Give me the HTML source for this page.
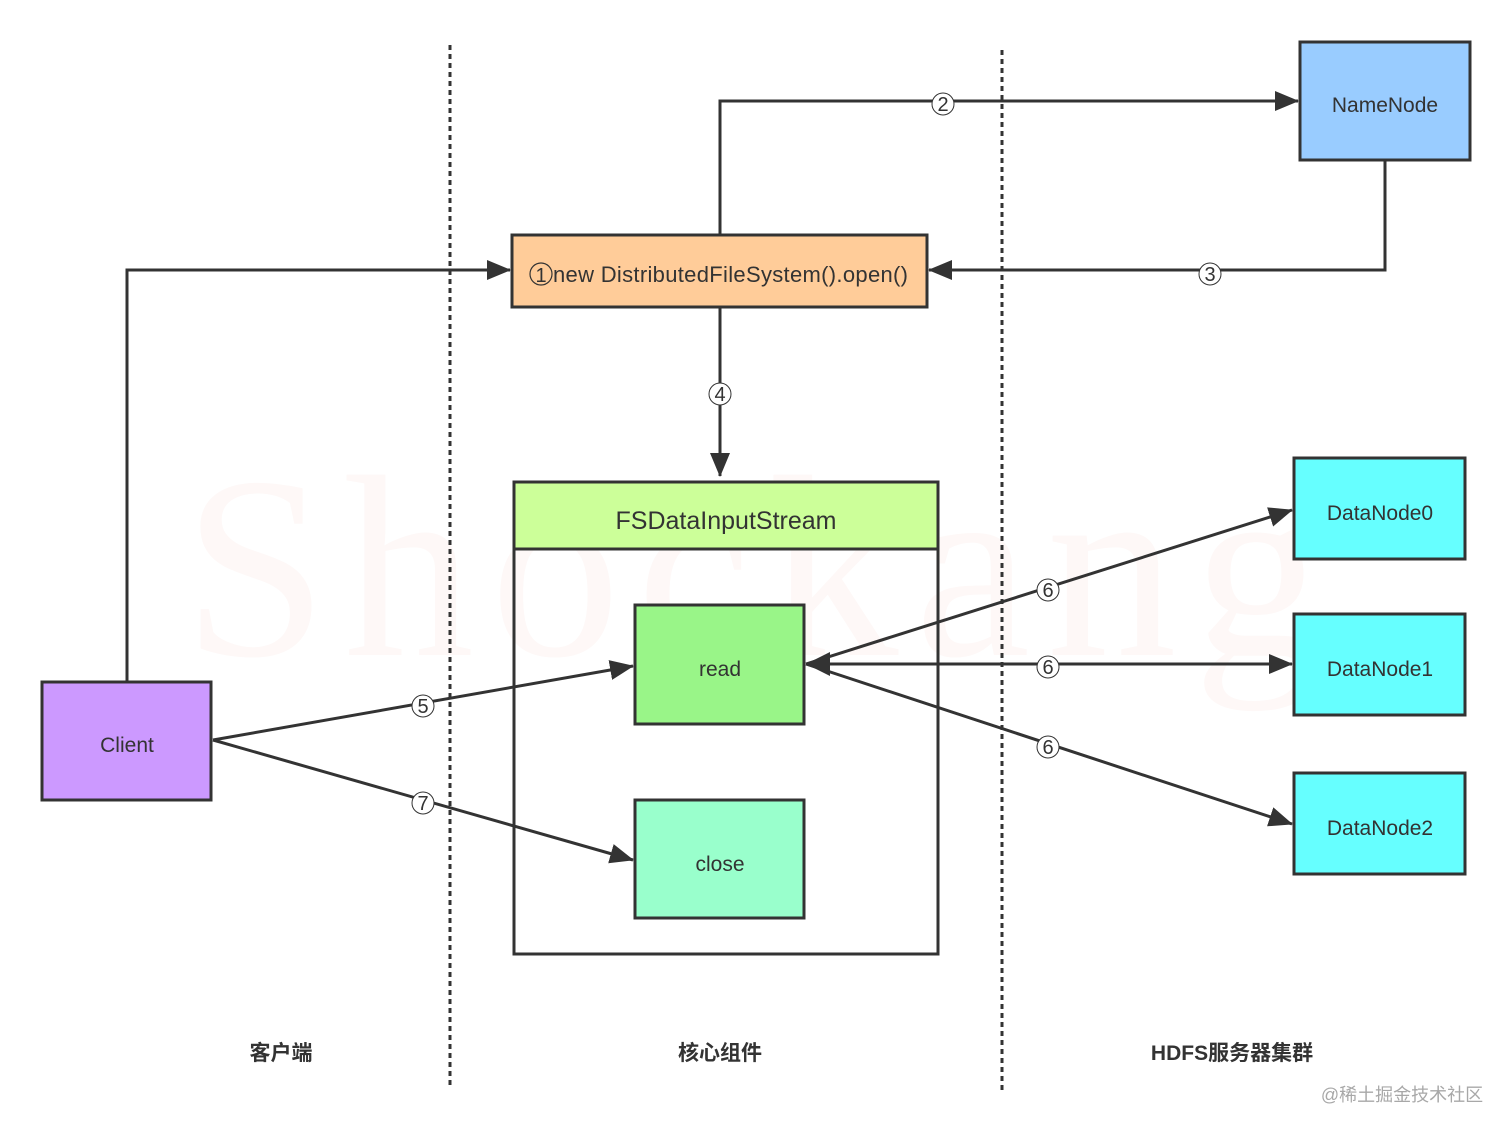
<!DOCTYPE html>
<html><head><meta charset="utf-8"><style>html,body{margin:0;padding:0;background:#fff}svg{display:block}</style></head>
<body>
<svg width="1512" height="1134" viewBox="0 0 1512 1134" xmlns="http://www.w3.org/2000/svg" font-family="Liberation Sans, sans-serif">
<defs>
<marker id="b" markerWidth="24" markerHeight="20" refX="23" refY="10" orient="auto" markerUnits="userSpaceOnUse" viewBox="0 0 24 20"><path d="M0,0 L24,10 L0,20 Z" fill="#333"/></marker>
</defs>
<text x="183" y="655" font-family="Liberation Serif, serif" font-size="260" fill="#fef8f7" textLength="1140">Shockang</text>
<g stroke="#333" stroke-width="3" stroke-dasharray="5 4"><line x1="450" y1="45" x2="450" y2="1085"/><line x1="1002" y1="50" x2="1002" y2="1090"/></g>
<g stroke="#333" stroke-width="3" fill="none">
<polyline points="720,235 720,101 1298,101" marker-end="url(#b)"/>
<polyline points="1385,160 1385,270 929,270" marker-end="url(#b)"/>
<polyline points="127,682 127,270 510,270" marker-end="url(#b)"/>
<line x1="720" y1="307" x2="720" y2="476" marker-end="url(#b)"/>
<line x1="213" y1="740" x2="633" y2="666" marker-end="url(#b)"/>
<line x1="213" y1="740" x2="633" y2="860" marker-end="url(#b)"/>
<line x1="806" y1="664" x2="1292" y2="510" marker-end="url(#b)"/>
<line x1="806" y1="664" x2="1292" y2="664" marker-end="url(#b)"/>
<line x1="806" y1="664" x2="1292" y2="824" marker-end="url(#b)"/>
</g>
<path d="M806,664 L830,652 L830,676 Z" fill="#333"/>
<g stroke="#333" stroke-width="3">
<rect x="1300" y="42" width="170" height="118" fill="#99ccff"/>
<rect x="512" y="235" width="415" height="72" fill="#ffcc99"/>
<rect x="514" y="482" width="424" height="472" fill="none"/>
<rect x="514" y="482" width="424" height="67" fill="#ccff99"/>
<rect x="635" y="605" width="169" height="119" fill="#99f588"/>
<rect x="635" y="800" width="169" height="118" fill="#99ffcc"/>
<rect x="42" y="682" width="169" height="118" fill="#cc99ff"/>
<rect x="1294" y="458" width="171" height="101" fill="#66ffff"/>
<rect x="1294" y="614" width="171" height="101" fill="#66ffff"/>
<rect x="1294" y="773" width="171" height="101" fill="#66ffff"/>
</g>
<circle cx="541" cy="274" r="11" fill="none" stroke="#333" stroke-width="1.2"/>
<text x="541" y="282" font-size="20" text-anchor="middle" fill="#333">1</text>
<text x="553" y="282" font-size="22" fill="#333" textLength="355">new DistributedFileSystem().open()</text>
<g fill="#333" font-size="21" text-anchor="middle">
<text x="1385" y="112">NameNode</text>
<text x="726" y="529" font-size="25">FSDataInputStream</text>
<text x="720" y="676">read</text>
<text x="720" y="871">close</text>
<text x="127" y="752">Client</text>
<text x="1380" y="520">DataNode0</text>
<text x="1380" y="676">DataNode1</text>
<text x="1380" y="835">DataNode2</text>
</g>
<g font-size="20" text-anchor="middle" fill="#333">
<g><circle cx="943" cy="104" r="11" fill="#fff" stroke="#333" stroke-width="1"/><text x="943" y="111">2</text></g>
<g><circle cx="1210" cy="274" r="11" fill="#fff" stroke="#333" stroke-width="1"/><text x="1210" y="281">3</text></g>
<g><circle cx="720" cy="394" r="11" fill="#fff" stroke="#333" stroke-width="1"/><text x="720" y="401">4</text></g>
<g><circle cx="423" cy="706" r="11" fill="#fff" stroke="#333" stroke-width="1"/><text x="423" y="713">5</text></g>
<g><circle cx="423" cy="803" r="11" fill="#fff" stroke="#333" stroke-width="1"/><text x="423" y="810">7</text></g>
<g><circle cx="1048" cy="590" r="11" fill="#fff" stroke="#333" stroke-width="1"/><text x="1048" y="597">6</text></g>
<g><circle cx="1048" cy="667" r="11" fill="#fff" stroke="#333" stroke-width="1"/><text x="1048" y="674">6</text></g>
<g><circle cx="1048" cy="747" r="11" fill="#fff" stroke="#333" stroke-width="1"/><text x="1048" y="754">6</text></g>
</g>
<g font-family="Liberation Sans, Noto Sans CJK SC, sans-serif" font-size="21" font-weight="bold" fill="#333" text-anchor="middle">
<text x="281" y="1060">客户端</text>
<text x="720" y="1060">核心组件</text>
<text x="1232" y="1060">HDFS服务器集群</text>
</g>
<text x="1402" y="1101" text-anchor="middle" font-family="Liberation Sans, Noto Sans CJK SC, sans-serif" font-size="18" fill="#a8a8a8">@稀土掘金技术社区</text>
</svg>
</body></html>
